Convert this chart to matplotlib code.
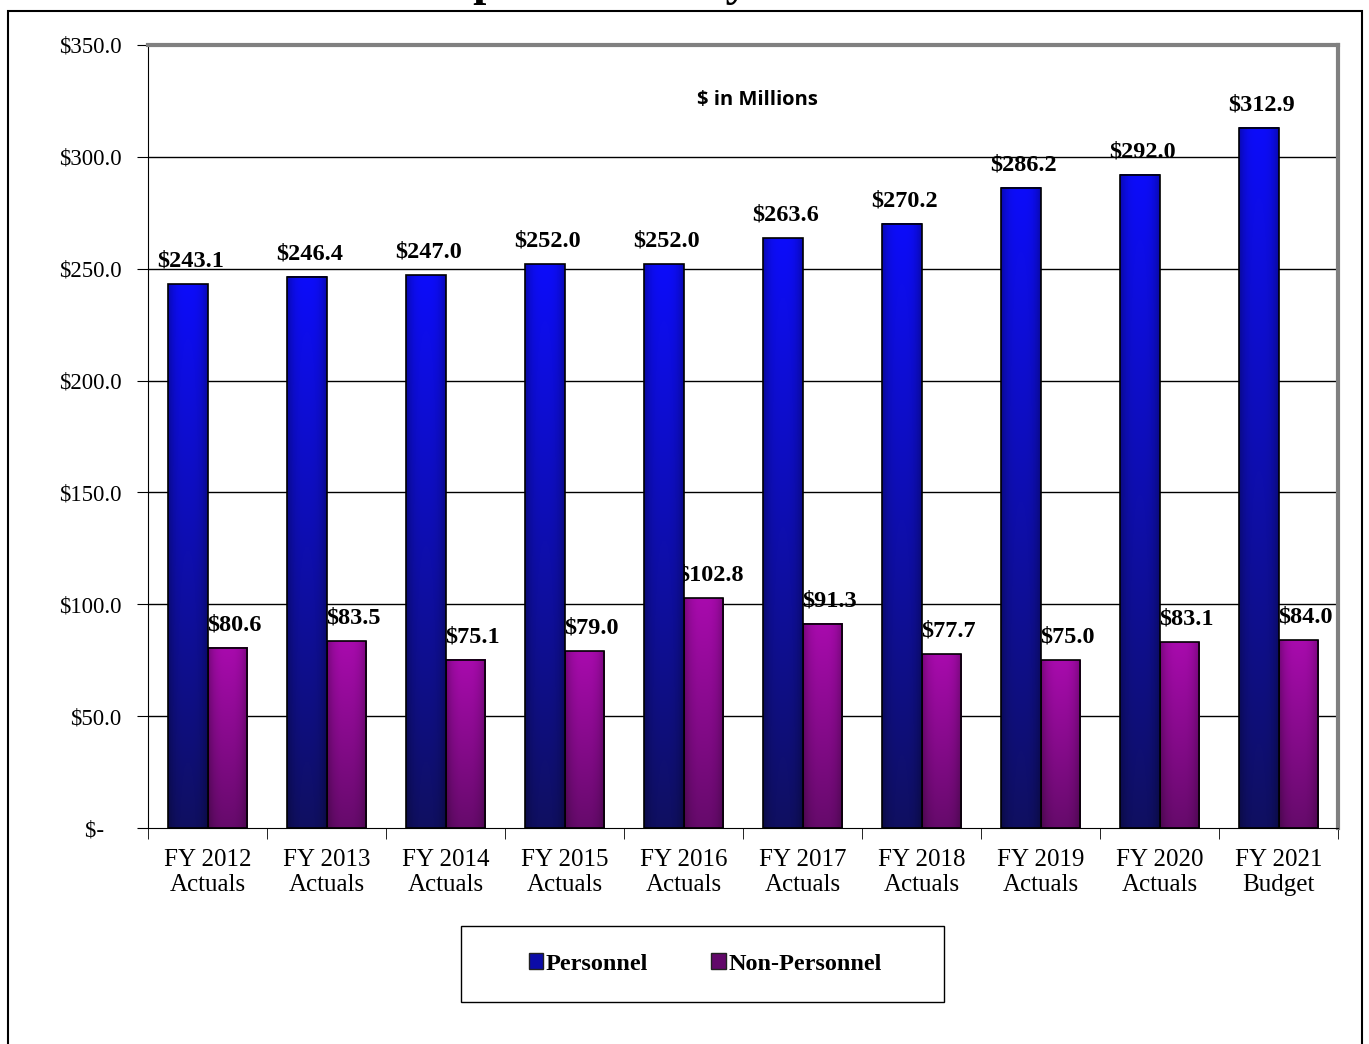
import numpy as np
import matplotlib
matplotlib.use("Agg")
import matplotlib.pyplot as plt
from matplotlib.patches import Rectangle, Patch

# Daten
years = ["FY 2012\nActuals", "FY 2013\nActuals", "FY 2014\nActuals", "FY 2015\nActuals",
         "FY 2016\nActuals", "FY 2017\nActuals", "FY 2018\nActuals", "FY 2019\nActuals",
         "FY 2020\nActuals", "FY 2021\nBudget"]
personnel = [243.1, 246.4, 247.0, 252.0, 252.0, 263.6, 270.2, 286.2, 292.0, 312.9]
non_personnel = [80.6, 83.5, 75.1, 79.0, 102.8, 91.3, 77.7, 75.0, 83.1, 84.0]
yticks = [0, 50, 100, 150, 200, 250, 300, 350]
ytick_labels = ["$-   ", "$50.0", "$100.0", "$150.0", "$200.0", "$250.0", "$300.0", "$350.0"]

serif = "Liberation Serif"

fig = plt.figure(figsize=(13.69, 10.44), dpi=100)
ax = fig.add_axes([148 / 1369, 1 - 828 / 1044, (1338 - 148) / 1369, (828 - 45) / 1044])

# aeusserer Rahmen
fig.patches.append(Rectangle((8 / 1369, -0.05), (1362 - 8) / 1369, 1.05 - 11 / 1044,
                             transform=fig.transFigure, fill=False, edgecolor="black",
                             linewidth=1.5))

# abgeschnittener Titel oben (nur Unterlaengen sichtbar)
fig.text(0.47, 1.0 + 5 / 1044, "Expenditures by Class", ha="center", va="baseline",
         fontsize=34, fontweight="bold", family=serif)


def verlauf(top, bottom, n=128):
    # vertikaler Farbverlauf mit etwas dunkleren Kanten
    t = np.linspace(0, 1, n)[:, None]
    col = np.array(top)[None, None, :] * (1 - t[..., None]) + np.array(bottom)[None, None, :] * t[..., None]
    x = np.linspace(-1, 1, 16)
    shade = 1 - 0.25 * np.abs(x) ** 3
    img = col * shade[None, :, None]
    return np.clip(img, 0, 1)


blue_img = verlauf((0.05, 0.05, 0.98), (0.06, 0.06, 0.38))
purple_img = verlauf((0.66, 0.04, 0.68), (0.40, 0.04, 0.42))

x = np.arange(len(years))
w = 0.336
for i in range(len(years)):
    xb = x[i] - w
    xp = x[i]
    ax.imshow(blue_img, extent=(xb, xb + w, 0, personnel[i]), aspect="auto",
              zorder=3, interpolation="bilinear")
    ax.add_patch(Rectangle((xb, 0), w, personnel[i], fill=False, edgecolor="black",
                           linewidth=1.2, zorder=3.1))
    ax.imshow(purple_img, extent=(xp, xp + w, 0, non_personnel[i]), aspect="auto",
              zorder=2, interpolation="bilinear")
    ax.add_patch(Rectangle((xp, 0), w, non_personnel[i], fill=False, edgecolor="black",
                           linewidth=1.2, zorder=2.1))
    ax.annotate(f"${personnel[i]:.1f}", (xb + w / 2, personnel[i]), xytext=(2, 9),
                textcoords="offset points", ha="center", va="bottom", fontsize=17.5,
                fontweight="bold", family=serif, zorder=4)
    ax.annotate(f"${non_personnel[i]:.1f}", (xp + w / 2, non_personnel[i]), xytext=(5, 9),
                textcoords="offset points", ha="center", va="bottom", fontsize=17.5,
                fontweight="bold", family=serif, zorder=2.5)

ax.set_xlim(-0.5, len(years) - 0.5)
ax.set_ylim(0, 350)
ax.set_yticks(yticks)
ax.set_yticklabels(ytick_labels, family=serif, fontsize=16.5)
ax.set_xticks(x)
ax.set_xticklabels(years, family=serif, fontsize=18, linespacing=1.2)
ax.set_xticks(np.arange(len(years) + 1) - 0.5, minor=True)
ax.tick_params(axis="x", which="major", length=0, pad=15)
ax.tick_params(axis="x", which="minor", length=8, direction="out")
ax.tick_params(axis="y", length=8, direction="out", pad=11)

for v in yticks[1:-1]:
    ax.axhline(v, color="black", linewidth=1, zorder=0.5)
ax.spines["top"].set_color("#808080")
ax.spines["top"].set_linewidth(3)
ax.spines["right"].set_color("#808080")
ax.spines["right"].set_linewidth(3)

ax.text(0.512, 0.93, "$ in Millions", transform=ax.transAxes, ha="center", va="center",
        fontsize=14.5, fontweight="bold", family="Open Sans")

# Legende mit eigenem Rahmen
fig.patches.append(Rectangle((461 / 1369, 1 - 1002 / 1044), (944 - 461) / 1369, 76 / 1044,
                             transform=fig.transFigure, fill=False, edgecolor="black",
                             linewidth=1))
handles = [Patch(facecolor="#0c0ca8", edgecolor="#222222", label="Personnel"),
           Patch(facecolor="#62086a", edgecolor="#222222", label="Non-Personnel")]
leg = fig.legend(handles=handles, loc="center", bbox_to_anchor=(705 / 1369, 1 - 964 / 1044),
                 ncol=2, frameon=False,
                 prop={"family": serif, "weight": "bold", "size": 17.5},
                 handlelength=0.6, handleheight=0.6, handletextpad=0.1, columnspacing=2.6)

fig.savefig("out.png", dpi=100)
